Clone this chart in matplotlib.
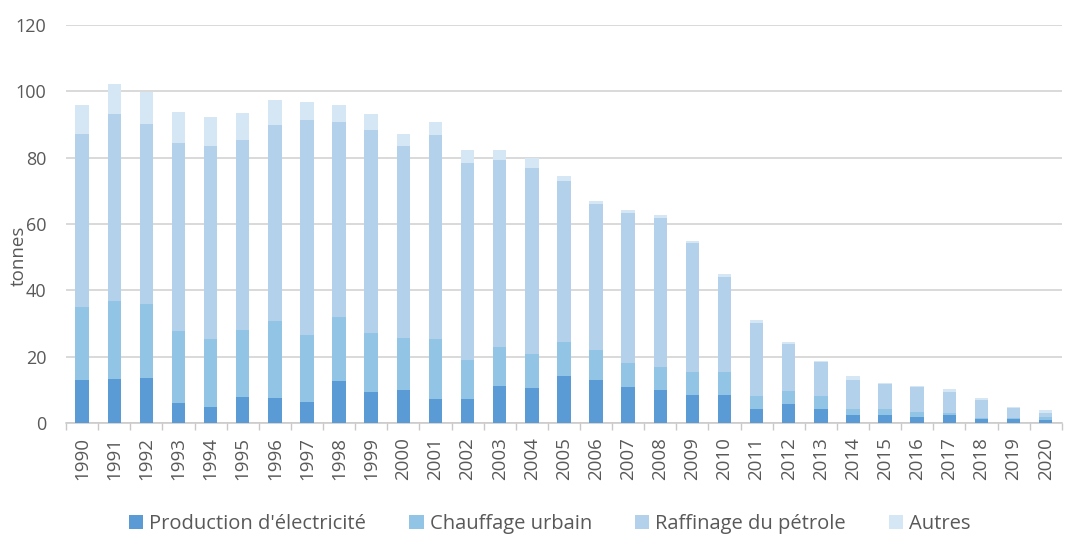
import matplotlib
matplotlib.use("Agg")
import matplotlib.pyplot as plt
import numpy as np
from matplotlib.ticker import FixedLocator, NullFormatter

plt.rcParams["font.family"] = ["Open Sans", "DejaVu Sans"]

years = [str(y) for y in range(1990, 2021)]

# cumulative tops read per layer, converted to segment heights below
elec = [12.9, 13.3, 13.7, 6.0, 4.8, 7.9, 7.5, 6.3, 12.7, 9.2,
        10.0, 7.3, 7.3, 11.2, 10.4, 14.3, 12.8, 10.8, 10.0, 8.5,
        8.5, 4.3, 5.8, 4.3, 2.3, 2.3, 1.9, 2.3, 1.1, 1.1, 0.8]
top_chauff = [34.9, 36.9, 35.8, 27.7, 25.3, 28.0, 30.7, 26.5, 31.9, 27.1,
              25.5, 25.2, 18.9, 22.8, 20.7, 24.3, 22.1, 18.1, 17.0, 15.4,
              15.5, 8.1, 9.6, 8.1, 4.3, 4.3, 3.2, 3.1, 1.5, 1.4, 1.8]
top_raff = [87.2, 93.1, 90.3, 84.5, 83.4, 85.4, 89.9, 91.4, 90.8, 88.5,
            83.5, 87.0, 78.5, 79.4, 76.9, 73.0, 66.1, 63.4, 61.8, 54.2,
            44.1, 30.1, 23.9, 18.5, 12.8, 11.6, 10.8, 9.3, 7.0, 4.6, 3.0]
top_total = [95.8, 102.3, 99.8, 93.9, 92.2, 93.5, 97.3, 96.9, 95.9, 93.1,
             87.3, 90.8, 82.4, 82.4, 79.8, 74.6, 66.9, 64.1, 62.6, 55.0,
             45.0, 30.9, 24.3, 18.8, 14.3, 11.9, 11.1, 10.1, 7.4, 4.9, 3.8]

chauff = np.array(top_chauff) - np.array(elec)
raff = np.array(top_raff) - np.array(top_chauff)
autres = np.array(top_total) - np.array(top_raff)

labels = ["Production d'électricité", "Chauffage urbain",
          "Raffinage du pétrole", "Autres"]
colors = ["#5B9BD5", "#92C4E6", "#B4D1EB", "#D5E6F5"]
grey = "#595959"

fig = plt.figure(figsize=(10.66, 5.34), dpi=100)
ax = fig.add_axes([0.062, 0.208, 0.934, 0.745])

x = np.arange(len(years))
bottom = np.zeros(len(years))
for vals, lab, col in zip([elec, chauff, raff, autres], labels, colors):
    ax.bar(x, vals, width=0.42, bottom=bottom, color=col, label=lab, zorder=3)
    bottom = bottom + np.array(vals)

ax.set_xlim(-0.5, len(years) - 0.5)
ax.set_ylim(0, 120)
ax.set_yticks(range(0, 121, 20))
ax.tick_params(axis="y", length=0, labelsize=13, labelcolor=grey, pad=14)
ax.grid(axis="y", color="#D0D0D0", lw=1.1, zorder=0)

ax.set_xticks(x)
ax.set_xticklabels(years, rotation=90, fontsize=13.5, color=grey)
ax.tick_params(axis="x", length=0, pad=10)
ax.xaxis.set_minor_locator(FixedLocator(np.arange(-0.5, len(years), 1.0)))
ax.xaxis.set_minor_formatter(NullFormatter())
ax.tick_params(axis="x", which="minor", length=5, color="#C8C8C8", width=1.0)

for side in ["left", "right", "top"]:
    ax.spines[side].set_visible(False)
ax.spines["bottom"].set_color("#C8C8C8")
ax.spines["bottom"].set_linewidth(1.1)

ax.set_ylabel("tonnes", fontsize=13.5, color=grey)
ax.yaxis.set_label_coords(-0.039, 0.42)

ax.legend(loc="center", bbox_to_anchor=(0.486, -0.254), ncol=4,
          frameon=False, fontsize=14.5, handlelength=0.7, handleheight=0.7,
          handletextpad=0.3, columnspacing=2.15, labelcolor=grey)

fig.savefig("out.png", dpi=100)
